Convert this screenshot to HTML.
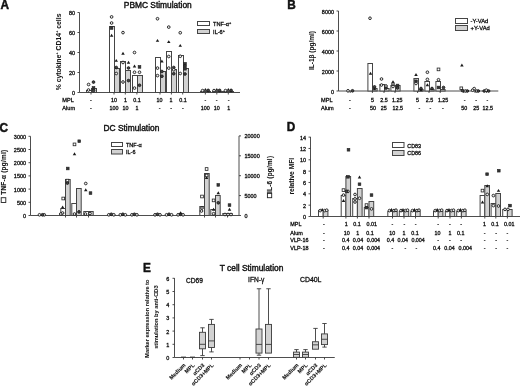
<!DOCTYPE html>
<html><head><meta charset="utf-8"><style>
html,body{margin:0;padding:0;background:#fff;}
svg{display:block;will-change:transform;}
text{font-family:"Liberation Sans",sans-serif;}
</style></head><body>
<svg width="520" height="386" viewBox="0 0 520 386" font-family="Liberation Sans">
<rect width="520" height="386" fill="#fff"/>
<text transform="translate(0.4,9.1) scale(1,1.1)" x="0" y="0" font-size="11.8" font-weight="bold" fill="#111" stroke="#111" stroke-width="0.45">A</text>
<text x="123.80" y="7.60" font-size="8.4" text-anchor="start" font-weight="normal" fill="#111" stroke="#111" stroke-width="0.4">PBMC Stimulation</text>
<line x1="79.50" y1="12.50" x2="79.50" y2="92.50" stroke="#3a3a3a" stroke-width="0.9"/>
<line x1="77.50" y1="92.50" x2="79.50" y2="92.50" stroke="#3a3a3a" stroke-width="0.9"/>
<text x="75.10" y="95.08" font-size="5.5" text-anchor="end" font-weight="normal" fill="#111" stroke="#111" stroke-width="0.3">0</text>
<line x1="77.50" y1="72.50" x2="79.50" y2="72.50" stroke="#3a3a3a" stroke-width="0.9"/>
<text x="75.10" y="75.08" font-size="5.5" text-anchor="end" font-weight="normal" fill="#111" stroke="#111" stroke-width="0.3">20</text>
<line x1="77.50" y1="52.50" x2="79.50" y2="52.50" stroke="#3a3a3a" stroke-width="0.9"/>
<text x="75.10" y="55.08" font-size="5.5" text-anchor="end" font-weight="normal" fill="#111" stroke="#111" stroke-width="0.3">40</text>
<line x1="77.50" y1="32.50" x2="79.50" y2="32.50" stroke="#3a3a3a" stroke-width="0.9"/>
<text x="75.10" y="35.08" font-size="5.5" text-anchor="end" font-weight="normal" fill="#111" stroke="#111" stroke-width="0.3">60</text>
<line x1="77.50" y1="12.50" x2="79.50" y2="12.50" stroke="#3a3a3a" stroke-width="0.9"/>
<text x="75.10" y="15.08" font-size="5.5" text-anchor="end" font-weight="normal" fill="#111" stroke="#111" stroke-width="0.3">80</text>
<line x1="79.50" y1="92.50" x2="240.00" y2="92.50" stroke="#3a3a3a" stroke-width="0.9"/>
<text x="60.60" y="51.90" font-size="6.8" text-anchor="middle" font-weight="bold" fill="#111" stroke="#111" stroke-width="0.05" transform="rotate(-90 60.60 51.90)">% cytokine<tspan font-size="4.2" dy="-2.4">+</tspan><tspan dy="2.4"> CD14</tspan><tspan font-size="4.2" dy="-2.4">+</tspan><tspan dy="2.4"> cells</tspan></text>
<rect x="86.50" y="90.50" width="5.00" height="2.00" fill="#fff" stroke="#454545" stroke-width="1.0" rx="0"/>
<rect x="91.50" y="88.50" width="5.00" height="4.00" fill="#d2d2d2" stroke="#454545" stroke-width="1.0" rx="0"/>
<line x1="91.00" y1="92.50" x2="91.00" y2="94.50" stroke="#3a3a3a" stroke-width="0.9"/>
<rect x="109.50" y="26.50" width="5.00" height="66.00" fill="#fff" stroke="#454545" stroke-width="1.0" rx="0"/>
<rect x="114.50" y="68.50" width="5.00" height="24.00" fill="#d2d2d2" stroke="#454545" stroke-width="1.0" rx="0"/>
<line x1="114.00" y1="92.50" x2="114.00" y2="94.50" stroke="#3a3a3a" stroke-width="0.9"/>
<rect x="120.50" y="61.50" width="5.00" height="31.00" fill="#fff" stroke="#454545" stroke-width="1.0" rx="0"/>
<rect x="125.50" y="70.50" width="5.00" height="22.00" fill="#d2d2d2" stroke="#454545" stroke-width="1.0" rx="0"/>
<line x1="125.30" y1="92.50" x2="125.30" y2="94.50" stroke="#3a3a3a" stroke-width="0.9"/>
<rect x="132.50" y="75.50" width="5.00" height="17.00" fill="#fff" stroke="#454545" stroke-width="1.0" rx="0"/>
<rect x="137.50" y="75.50" width="5.00" height="17.00" fill="#d2d2d2" stroke="#454545" stroke-width="1.0" rx="0"/>
<line x1="136.90" y1="92.50" x2="136.90" y2="94.50" stroke="#3a3a3a" stroke-width="0.9"/>
<rect x="155.50" y="57.50" width="5.00" height="35.00" fill="#fff" stroke="#454545" stroke-width="1.0" rx="0"/>
<rect x="160.50" y="71.50" width="5.00" height="21.00" fill="#d2d2d2" stroke="#454545" stroke-width="1.0" rx="0"/>
<line x1="160.00" y1="92.50" x2="160.00" y2="94.50" stroke="#3a3a3a" stroke-width="0.9"/>
<rect x="166.50" y="51.50" width="5.00" height="41.00" fill="#fff" stroke="#454545" stroke-width="1.0" rx="0"/>
<rect x="171.50" y="69.50" width="5.00" height="23.00" fill="#d2d2d2" stroke="#454545" stroke-width="1.0" rx="0"/>
<line x1="171.40" y1="92.50" x2="171.40" y2="94.50" stroke="#3a3a3a" stroke-width="0.9"/>
<rect x="178.50" y="55.50" width="5.00" height="37.00" fill="#fff" stroke="#454545" stroke-width="1.0" rx="0"/>
<rect x="183.50" y="68.50" width="5.00" height="24.00" fill="#d2d2d2" stroke="#454545" stroke-width="1.0" rx="0"/>
<line x1="182.70" y1="92.50" x2="182.70" y2="94.50" stroke="#3a3a3a" stroke-width="0.9"/>
<rect x="200.50" y="91.50" width="5.00" height="1.00" fill="#fff" stroke="#454545" stroke-width="1.0" rx="0"/>
<rect x="205.50" y="91.50" width="5.00" height="1.00" fill="#d2d2d2" stroke="#454545" stroke-width="1.0" rx="0"/>
<line x1="205.40" y1="92.50" x2="205.40" y2="94.50" stroke="#3a3a3a" stroke-width="0.9"/>
<rect x="212.50" y="91.50" width="5.00" height="1.00" fill="#fff" stroke="#454545" stroke-width="1.0" rx="0"/>
<rect x="217.50" y="91.50" width="5.00" height="1.00" fill="#d2d2d2" stroke="#454545" stroke-width="1.0" rx="0"/>
<line x1="216.80" y1="92.50" x2="216.80" y2="94.50" stroke="#3a3a3a" stroke-width="0.9"/>
<rect x="223.50" y="91.50" width="5.00" height="1.00" fill="#fff" stroke="#454545" stroke-width="1.0" rx="0"/>
<rect x="228.50" y="91.50" width="5.00" height="1.00" fill="#d2d2d2" stroke="#454545" stroke-width="1.0" rx="0"/>
<line x1="228.30" y1="92.50" x2="228.30" y2="94.50" stroke="#3a3a3a" stroke-width="0.9"/>
<circle cx="88.60" cy="84.50" r="1.35" fill="#eee" stroke="#1a1a1a" stroke-width="0.9"/>
<circle cx="93.50" cy="82.10" r="1.35" fill="#444" stroke="#1a1a1a" stroke-width="0.9"/>
<circle cx="88.50" cy="90.00" r="1.35" fill="#eee" stroke="#1a1a1a" stroke-width="0.9"/>
<rect x="92.15" y="86.65" width="2.70" height="2.70" fill="#333" stroke="#222" stroke-width="0.6"/>
<circle cx="93.50" cy="90.50" r="1.35" fill="#444" stroke="#1a1a1a" stroke-width="0.9"/>
<circle cx="111.60" cy="16.90" r="1.35" fill="#eee" stroke="#1a1a1a" stroke-width="0.9"/>
<circle cx="111.60" cy="23.00" r="1.35" fill="#eee" stroke="#1a1a1a" stroke-width="0.9"/>
<rect x="110.25" y="26.65" width="2.70" height="2.70" fill="#333" stroke="#222" stroke-width="0.6"/>
<path d="M109.85,36.70 L113.35,36.70 L111.60,33.80 Z" fill="#1a1a1a"/>
<path d="M114.50,61.80 L118.00,61.80 L116.25,58.90 Z" fill="#1a1a1a"/>
<circle cx="116.25" cy="67.50" r="1.35" fill="#444" stroke="#1a1a1a" stroke-width="0.9"/>
<circle cx="116.25" cy="73.50" r="1.35" fill="#eee" stroke="#1a1a1a" stroke-width="0.9"/>
<circle cx="123.00" cy="32.60" r="1.35" fill="#eee" stroke="#1a1a1a" stroke-width="0.9"/>
<path d="M121.25,54.70 L124.75,54.70 L123.00,51.80 Z" fill="#1a1a1a"/>
<circle cx="123.00" cy="62.50" r="1.35" fill="#eee" stroke="#1a1a1a" stroke-width="0.9"/>
<circle cx="123.00" cy="82.00" r="1.35" fill="#eee" stroke="#1a1a1a" stroke-width="0.9"/>
<path d="M126.75,63.70 L130.25,63.70 L128.50,60.80 Z" fill="#1a1a1a"/>
<circle cx="128.50" cy="68.00" r="1.35" fill="#444" stroke="#1a1a1a" stroke-width="0.9"/>
<circle cx="128.50" cy="80.60" r="1.35" fill="#444" stroke="#1a1a1a" stroke-width="0.9"/>
<circle cx="134.50" cy="52.50" r="1.35" fill="#eee" stroke="#1a1a1a" stroke-width="0.9"/>
<path d="M132.75,67.45 L136.25,67.45 L134.50,64.55 Z" fill="#1a1a1a"/>
<circle cx="134.50" cy="72.25" r="1.35" fill="#eee" stroke="#1a1a1a" stroke-width="0.9"/>
<circle cx="134.50" cy="88.10" r="1.35" fill="#eee" stroke="#1a1a1a" stroke-width="0.9"/>
<rect x="138.15" y="65.55" width="2.70" height="2.70" fill="#333" stroke="#222" stroke-width="0.6"/>
<circle cx="139.50" cy="72.25" r="1.35" fill="#eee" stroke="#1a1a1a" stroke-width="0.9"/>
<circle cx="139.50" cy="85.25" r="1.35" fill="#444" stroke="#1a1a1a" stroke-width="0.9"/>
<circle cx="157.50" cy="18.75" r="1.35" fill="#eee" stroke="#1a1a1a" stroke-width="0.9"/>
<path d="M155.75,41.80 L159.25,41.80 L157.50,38.90 Z" fill="#1a1a1a"/>
<circle cx="157.50" cy="68.10" r="1.35" fill="#eee" stroke="#1a1a1a" stroke-width="0.9"/>
<circle cx="157.50" cy="75.60" r="1.35" fill="#eee" stroke="#1a1a1a" stroke-width="0.9"/>
<path d="M160.15,62.45 L163.65,62.45 L161.90,59.55 Z" fill="#1a1a1a"/>
<circle cx="161.90" cy="71.50" r="1.35" fill="#444" stroke="#1a1a1a" stroke-width="0.9"/>
<circle cx="161.90" cy="76.25" r="1.35" fill="#444" stroke="#1a1a1a" stroke-width="0.9"/>
<circle cx="168.75" cy="27.10" r="1.35" fill="#eee" stroke="#1a1a1a" stroke-width="0.9"/>
<path d="M167.00,43.10 L170.50,43.10 L168.75,40.20 Z" fill="#1a1a1a"/>
<circle cx="168.75" cy="56.50" r="1.35" fill="#eee" stroke="#1a1a1a" stroke-width="0.9"/>
<circle cx="168.75" cy="68.10" r="1.35" fill="#eee" stroke="#1a1a1a" stroke-width="0.9"/>
<circle cx="173.75" cy="67.50" r="1.35" fill="#444" stroke="#1a1a1a" stroke-width="0.9"/>
<circle cx="173.75" cy="69.75" r="1.35" fill="#eee" stroke="#1a1a1a" stroke-width="0.9"/>
<circle cx="173.75" cy="73.75" r="1.35" fill="#444" stroke="#1a1a1a" stroke-width="0.9"/>
<circle cx="180.25" cy="32.75" r="1.35" fill="#eee" stroke="#1a1a1a" stroke-width="0.9"/>
<path d="M178.50,46.80 L182.00,46.80 L180.25,43.90 Z" fill="#1a1a1a"/>
<circle cx="180.25" cy="56.25" r="1.35" fill="#eee" stroke="#1a1a1a" stroke-width="0.9"/>
<circle cx="180.25" cy="73.50" r="1.35" fill="#eee" stroke="#1a1a1a" stroke-width="0.9"/>
<rect x="183.65" y="62.40" width="2.70" height="2.70" fill="#333" stroke="#222" stroke-width="0.6"/>
<circle cx="185.00" cy="66.00" r="1.35" fill="#444" stroke="#1a1a1a" stroke-width="0.9"/>
<rect x="183.65" y="67.40" width="2.70" height="2.70" fill="#333" stroke="#222" stroke-width="0.6"/>
<circle cx="185.00" cy="74.00" r="1.35" fill="#444" stroke="#1a1a1a" stroke-width="0.9"/>
<circle cx="202.60" cy="90.60" r="1.35" fill="#eee" stroke="#1a1a1a" stroke-width="0.9"/>
<path d="M203.65,90.80 L207.15,90.80 L205.40,87.90 Z" fill="#1a1a1a"/>
<circle cx="208.20" cy="90.40" r="1.35" fill="#444" stroke="#1a1a1a" stroke-width="0.9"/>
<circle cx="214.00" cy="90.60" r="1.35" fill="#eee" stroke="#1a1a1a" stroke-width="0.9"/>
<path d="M215.05,90.80 L218.55,90.80 L216.80,87.90 Z" fill="#1a1a1a"/>
<circle cx="219.60" cy="90.40" r="1.35" fill="#444" stroke="#1a1a1a" stroke-width="0.9"/>
<circle cx="225.50" cy="90.60" r="1.35" fill="#eee" stroke="#1a1a1a" stroke-width="0.9"/>
<path d="M226.55,90.80 L230.05,90.80 L228.30,87.90 Z" fill="#1a1a1a"/>
<circle cx="231.10" cy="90.40" r="1.35" fill="#444" stroke="#1a1a1a" stroke-width="0.9"/>
<rect x="197.50" y="21.50" width="12.00" height="4.00" fill="#fff" stroke="#454545" stroke-width="1" rx="0"/>
<rect x="197.50" y="29.50" width="12.00" height="4.00" fill="#d2d2d2" stroke="#454545" stroke-width="1" rx="0"/>
<text x="213.10" y="26.00" font-size="5.6" text-anchor="start" font-weight="normal" fill="#111" stroke="#111" stroke-width="0.3">TNF-α<tspan font-size="3.8" dy="-2.2">+</tspan></text>
<text x="213.10" y="33.70" font-size="5.6" text-anchor="start" font-weight="normal" fill="#111" stroke="#111" stroke-width="0.3">IL-6<tspan font-size="3.8" dy="-2.2">+</tspan></text>
<text x="62.30" y="101.92" font-size="5.6" text-anchor="start" font-weight="normal" fill="#111" stroke="#111" stroke-width="0.3">MPL</text>
<text x="62.30" y="109.82" font-size="5.6" text-anchor="start" font-weight="normal" fill="#111" stroke="#111" stroke-width="0.3">Alum</text>
<text x="91.00" y="101.83" font-size="5.35" text-anchor="middle" font-weight="normal" fill="#111" stroke="#111" stroke-width="0.3">-</text>
<text x="114.00" y="101.83" font-size="5.35" text-anchor="middle" font-weight="normal" fill="#111" stroke="#111" stroke-width="0.3">10</text>
<text x="125.40" y="101.83" font-size="5.35" text-anchor="middle" font-weight="normal" fill="#111" stroke="#111" stroke-width="0.3">1</text>
<text x="136.90" y="101.83" font-size="5.35" text-anchor="middle" font-weight="normal" fill="#111" stroke="#111" stroke-width="0.3">0.1</text>
<text x="159.60" y="101.83" font-size="5.35" text-anchor="middle" font-weight="normal" fill="#111" stroke="#111" stroke-width="0.3">10</text>
<text x="171.10" y="101.83" font-size="5.35" text-anchor="middle" font-weight="normal" fill="#111" stroke="#111" stroke-width="0.3">1</text>
<text x="183.00" y="101.83" font-size="5.35" text-anchor="middle" font-weight="normal" fill="#111" stroke="#111" stroke-width="0.3">0.1</text>
<text x="205.30" y="101.83" font-size="5.35" text-anchor="middle" font-weight="normal" fill="#111" stroke="#111" stroke-width="0.3">-</text>
<text x="216.70" y="101.83" font-size="5.35" text-anchor="middle" font-weight="normal" fill="#111" stroke="#111" stroke-width="0.3">-</text>
<text x="228.70" y="101.83" font-size="5.35" text-anchor="middle" font-weight="normal" fill="#111" stroke="#111" stroke-width="0.3">-</text>
<text x="91.00" y="109.73" font-size="5.35" text-anchor="middle" font-weight="normal" fill="#111" stroke="#111" stroke-width="0.3">-</text>
<text x="114.00" y="109.73" font-size="5.35" text-anchor="middle" font-weight="normal" fill="#111" stroke="#111" stroke-width="0.3">100</text>
<text x="125.40" y="109.73" font-size="5.35" text-anchor="middle" font-weight="normal" fill="#111" stroke="#111" stroke-width="0.3">10</text>
<text x="136.90" y="109.73" font-size="5.35" text-anchor="middle" font-weight="normal" fill="#111" stroke="#111" stroke-width="0.3">1</text>
<text x="159.60" y="109.73" font-size="5.35" text-anchor="middle" font-weight="normal" fill="#111" stroke="#111" stroke-width="0.3">-</text>
<text x="171.10" y="109.73" font-size="5.35" text-anchor="middle" font-weight="normal" fill="#111" stroke="#111" stroke-width="0.3">-</text>
<text x="183.00" y="109.73" font-size="5.35" text-anchor="middle" font-weight="normal" fill="#111" stroke="#111" stroke-width="0.3">-</text>
<text x="205.30" y="109.73" font-size="5.35" text-anchor="middle" font-weight="normal" fill="#111" stroke="#111" stroke-width="0.3">100</text>
<text x="216.70" y="109.73" font-size="5.35" text-anchor="middle" font-weight="normal" fill="#111" stroke="#111" stroke-width="0.3">10</text>
<text x="228.70" y="109.73" font-size="5.35" text-anchor="middle" font-weight="normal" fill="#111" stroke="#111" stroke-width="0.3">1</text>
<text transform="translate(287.2,8.6) scale(1,1.1)" x="0" y="0" font-size="11.8" font-weight="bold" fill="#111" stroke="#111" stroke-width="0.45">B</text>
<line x1="338.50" y1="11.00" x2="338.50" y2="91.00" stroke="#3a3a3a" stroke-width="0.9"/>
<line x1="336.50" y1="91.00" x2="338.50" y2="91.00" stroke="#3a3a3a" stroke-width="0.9"/>
<text x="334.10" y="93.58" font-size="5.5" text-anchor="end" font-weight="normal" fill="#111" stroke="#111" stroke-width="0.3">0</text>
<line x1="336.50" y1="71.00" x2="338.50" y2="71.00" stroke="#3a3a3a" stroke-width="0.9"/>
<text x="334.10" y="73.58" font-size="5.5" text-anchor="end" font-weight="normal" fill="#111" stroke="#111" stroke-width="0.3">2000</text>
<line x1="336.50" y1="51.00" x2="338.50" y2="51.00" stroke="#3a3a3a" stroke-width="0.9"/>
<text x="334.10" y="53.58" font-size="5.5" text-anchor="end" font-weight="normal" fill="#111" stroke="#111" stroke-width="0.3">4000</text>
<line x1="336.50" y1="31.00" x2="338.50" y2="31.00" stroke="#3a3a3a" stroke-width="0.9"/>
<text x="334.10" y="33.58" font-size="5.5" text-anchor="end" font-weight="normal" fill="#111" stroke="#111" stroke-width="0.3">6000</text>
<line x1="336.50" y1="11.00" x2="338.50" y2="11.00" stroke="#3a3a3a" stroke-width="0.9"/>
<text x="334.10" y="13.58" font-size="5.5" text-anchor="end" font-weight="normal" fill="#111" stroke="#111" stroke-width="0.3">8000</text>
<line x1="338.50" y1="91.00" x2="498.30" y2="91.00" stroke="#3a3a3a" stroke-width="0.9"/>
<text x="314.40" y="50.50" font-size="6.5" text-anchor="middle" font-weight="bold" fill="#111" stroke="#111" stroke-width="0.05" transform="rotate(-90 314.40 50.50)">IL-1β (pg/ml)</text>
<rect x="345.90" y="91.50" width="4.60" height="-0.50" fill="#fff" stroke="#454545" stroke-width="1.0" rx="0"/>
<rect x="350.50" y="91.50" width="4.60" height="-0.50" fill="#d2d2d2" stroke="#454545" stroke-width="1.0" rx="0"/>
<line x1="350.20" y1="91.00" x2="350.20" y2="93.00" stroke="#3a3a3a" stroke-width="0.9"/>
<rect x="367.90" y="63.50" width="4.60" height="27.50" fill="#fff" stroke="#454545" stroke-width="1.0" rx="0"/>
<rect x="372.50" y="88.50" width="4.60" height="2.50" fill="#d2d2d2" stroke="#454545" stroke-width="1.0" rx="0"/>
<line x1="372.40" y1="91.00" x2="372.40" y2="93.00" stroke="#3a3a3a" stroke-width="0.9"/>
<rect x="379.90" y="84.50" width="4.60" height="6.50" fill="#fff" stroke="#454545" stroke-width="1.0" rx="0"/>
<rect x="384.50" y="88.50" width="4.60" height="2.50" fill="#d2d2d2" stroke="#454545" stroke-width="1.0" rx="0"/>
<line x1="384.00" y1="91.00" x2="384.00" y2="93.00" stroke="#3a3a3a" stroke-width="0.9"/>
<rect x="390.90" y="85.50" width="4.60" height="5.50" fill="#fff" stroke="#454545" stroke-width="1.0" rx="0"/>
<rect x="395.50" y="85.50" width="4.60" height="5.50" fill="#d2d2d2" stroke="#454545" stroke-width="1.0" rx="0"/>
<line x1="395.00" y1="91.00" x2="395.00" y2="93.00" stroke="#3a3a3a" stroke-width="0.9"/>
<rect x="413.90" y="78.50" width="4.60" height="12.50" fill="#fff" stroke="#454545" stroke-width="1.0" rx="0"/>
<rect x="418.50" y="89.50" width="4.60" height="1.50" fill="#d2d2d2" stroke="#454545" stroke-width="1.0" rx="0"/>
<line x1="417.60" y1="91.00" x2="417.60" y2="93.00" stroke="#3a3a3a" stroke-width="0.9"/>
<rect x="424.90" y="81.50" width="4.60" height="9.50" fill="#fff" stroke="#454545" stroke-width="1.0" rx="0"/>
<rect x="429.50" y="89.50" width="4.60" height="1.50" fill="#d2d2d2" stroke="#454545" stroke-width="1.0" rx="0"/>
<line x1="429.00" y1="91.00" x2="429.00" y2="93.00" stroke="#3a3a3a" stroke-width="0.9"/>
<rect x="435.90" y="81.50" width="4.60" height="9.50" fill="#fff" stroke="#454545" stroke-width="1.0" rx="0"/>
<rect x="440.50" y="89.50" width="4.60" height="1.50" fill="#d2d2d2" stroke="#454545" stroke-width="1.0" rx="0"/>
<line x1="440.20" y1="91.00" x2="440.20" y2="93.00" stroke="#3a3a3a" stroke-width="0.9"/>
<rect x="459.90" y="91.50" width="4.60" height="-0.50" fill="#fff" stroke="#454545" stroke-width="1.0" rx="0"/>
<rect x="464.50" y="91.50" width="4.60" height="-0.50" fill="#d2d2d2" stroke="#454545" stroke-width="1.0" rx="0"/>
<line x1="463.60" y1="91.00" x2="463.60" y2="93.00" stroke="#3a3a3a" stroke-width="0.9"/>
<rect x="470.90" y="91.50" width="4.60" height="-0.50" fill="#fff" stroke="#454545" stroke-width="1.0" rx="0"/>
<rect x="475.50" y="91.50" width="4.60" height="-0.50" fill="#d2d2d2" stroke="#454545" stroke-width="1.0" rx="0"/>
<line x1="475.00" y1="91.00" x2="475.00" y2="93.00" stroke="#3a3a3a" stroke-width="0.9"/>
<rect x="481.90" y="91.50" width="4.60" height="-0.50" fill="#fff" stroke="#454545" stroke-width="1.0" rx="0"/>
<rect x="486.50" y="91.50" width="4.60" height="-0.50" fill="#d2d2d2" stroke="#454545" stroke-width="1.0" rx="0"/>
<line x1="486.40" y1="91.00" x2="486.40" y2="93.00" stroke="#3a3a3a" stroke-width="0.9"/>
<circle cx="348.00" cy="90.80" r="1.35" fill="#eee" stroke="#1a1a1a" stroke-width="0.9"/>
<circle cx="352.50" cy="90.80" r="1.35" fill="#444" stroke="#1a1a1a" stroke-width="0.9"/>
<circle cx="370.00" cy="18.25" r="1.35" fill="#eee" stroke="#1a1a1a" stroke-width="0.9"/>
<path d="M368.75,74.70 L372.25,74.70 L370.50,71.80 Z" fill="#1a1a1a"/>
<circle cx="374.50" cy="86.90" r="1.35" fill="#444" stroke="#1a1a1a" stroke-width="0.9"/>
<path d="M372.75,90.20 L376.25,90.20 L374.50,87.30 Z" fill="#1a1a1a"/>
<circle cx="381.50" cy="79.00" r="1.35" fill="#eee" stroke="#1a1a1a" stroke-width="0.9"/>
<circle cx="381.50" cy="85.00" r="1.35" fill="#eee" stroke="#1a1a1a" stroke-width="0.9"/>
<circle cx="386.00" cy="88.00" r="1.35" fill="#444" stroke="#1a1a1a" stroke-width="0.9"/>
<circle cx="386.00" cy="86.00" r="1.35" fill="#eee" stroke="#1a1a1a" stroke-width="0.9"/>
<path d="M391.25,83.10 L394.75,83.10 L393.00,80.20 Z" fill="#1a1a1a"/>
<circle cx="393.00" cy="84.00" r="1.35" fill="#eee" stroke="#1a1a1a" stroke-width="0.9"/>
<circle cx="393.00" cy="86.50" r="1.35" fill="#eee" stroke="#1a1a1a" stroke-width="0.9"/>
<rect x="396.15" y="84.15" width="2.70" height="2.70" fill="#333" stroke="#222" stroke-width="0.6"/>
<circle cx="397.50" cy="88.00" r="1.35" fill="#444" stroke="#1a1a1a" stroke-width="0.9"/>
<path d="M414.25,75.95 L417.75,75.95 L416.00,73.05 Z" fill="#1a1a1a"/>
<rect x="414.65" y="79.90" width="2.70" height="2.70" fill="#333" stroke="#222" stroke-width="0.6"/>
<circle cx="416.00" cy="83.50" r="1.35" fill="#eee" stroke="#1a1a1a" stroke-width="0.9"/>
<circle cx="421.00" cy="88.50" r="1.35" fill="#444" stroke="#1a1a1a" stroke-width="0.9"/>
<path d="M419.25,91.20 L422.75,91.20 L421.00,88.30 Z" fill="#1a1a1a"/>
<circle cx="427.40" cy="72.25" r="1.35" fill="#eee" stroke="#1a1a1a" stroke-width="0.9"/>
<circle cx="427.40" cy="79.40" r="1.35" fill="#eee" stroke="#1a1a1a" stroke-width="0.9"/>
<path d="M425.65,86.20 L429.15,86.20 L427.40,83.30 Z" fill="#1a1a1a"/>
<circle cx="432.00" cy="88.50" r="1.35" fill="#444" stroke="#1a1a1a" stroke-width="0.9"/>
<rect x="437.15" y="68.05" width="2.70" height="2.70" fill="#fff" stroke="#222" stroke-width="0.8"/>
<circle cx="438.50" cy="79.75" r="1.35" fill="#eee" stroke="#1a1a1a" stroke-width="0.9"/>
<rect x="437.15" y="86.15" width="2.70" height="2.70" fill="#333" stroke="#222" stroke-width="0.6"/>
<circle cx="443.50" cy="87.50" r="1.35" fill="#444" stroke="#1a1a1a" stroke-width="0.9"/>
<path d="M460.15,66.45 L463.65,66.45 L461.90,63.55 Z" fill="#1a1a1a"/>
<rect x="459.95" y="86.95" width="2.70" height="2.70" fill="#fff" stroke="#222" stroke-width="0.8"/>
<circle cx="462.50" cy="90.60" r="1.35" fill="#444" stroke="#1a1a1a" stroke-width="0.9"/>
<circle cx="465.30" cy="91.00" r="1.35" fill="#eee" stroke="#1a1a1a" stroke-width="0.9"/>
<circle cx="467.30" cy="91.00" r="1.35" fill="#444" stroke="#1a1a1a" stroke-width="0.9"/>
<circle cx="472.60" cy="90.20" r="1.35" fill="#eee" stroke="#1a1a1a" stroke-width="0.9"/>
<circle cx="474.20" cy="88.60" r="1.35" fill="#eee" stroke="#1a1a1a" stroke-width="0.9"/>
<circle cx="476.60" cy="91.00" r="1.35" fill="#eee" stroke="#1a1a1a" stroke-width="0.9"/>
<circle cx="478.30" cy="91.00" r="1.35" fill="#444" stroke="#1a1a1a" stroke-width="0.9"/>
<circle cx="484.20" cy="91.00" r="1.35" fill="#444" stroke="#1a1a1a" stroke-width="0.9"/>
<circle cx="486.30" cy="90.20" r="1.35" fill="#eee" stroke="#1a1a1a" stroke-width="0.9"/>
<circle cx="488.60" cy="91.00" r="1.35" fill="#444" stroke="#1a1a1a" stroke-width="0.9"/>
<rect x="455.50" y="18.50" width="12.00" height="5.00" fill="#fff" stroke="#454545" stroke-width="1" rx="0"/>
<rect x="455.50" y="25.50" width="12.00" height="5.00" fill="#d2d2d2" stroke="#454545" stroke-width="1" rx="0"/>
<text x="470.60" y="22.90" font-size="5.8" text-anchor="start" font-weight="normal" fill="#111" stroke="#111" stroke-width="0.3">-Y-VAd</text>
<text x="470.60" y="30.00" font-size="5.8" text-anchor="start" font-weight="normal" fill="#111" stroke="#111" stroke-width="0.3">+Y-VAd</text>
<text x="321.00" y="101.72" font-size="5.6" text-anchor="start" font-weight="normal" fill="#111" stroke="#111" stroke-width="0.3">MPL</text>
<text x="321.00" y="109.72" font-size="5.6" text-anchor="start" font-weight="normal" fill="#111" stroke="#111" stroke-width="0.3">Alum</text>
<text x="350.00" y="101.53" font-size="5.35" text-anchor="middle" font-weight="normal" fill="#111" stroke="#111" stroke-width="0.3">-</text>
<text x="372.50" y="101.53" font-size="5.35" text-anchor="middle" font-weight="normal" fill="#111" stroke="#111" stroke-width="0.3">5</text>
<text x="383.90" y="101.53" font-size="5.35" text-anchor="middle" font-weight="normal" fill="#111" stroke="#111" stroke-width="0.3">2.5</text>
<text x="397.20" y="101.53" font-size="5.35" text-anchor="middle" font-weight="normal" fill="#111" stroke="#111" stroke-width="0.3">1.25</text>
<text x="417.50" y="101.53" font-size="5.35" text-anchor="middle" font-weight="normal" fill="#111" stroke="#111" stroke-width="0.3">5</text>
<text x="429.50" y="101.53" font-size="5.35" text-anchor="middle" font-weight="normal" fill="#111" stroke="#111" stroke-width="0.3">2.5</text>
<text x="443.10" y="101.53" font-size="5.35" text-anchor="middle" font-weight="normal" fill="#111" stroke="#111" stroke-width="0.3">1.25</text>
<text x="464.60" y="101.53" font-size="5.35" text-anchor="middle" font-weight="normal" fill="#111" stroke="#111" stroke-width="0.3">-</text>
<text x="476.20" y="101.53" font-size="5.35" text-anchor="middle" font-weight="normal" fill="#111" stroke="#111" stroke-width="0.3">-</text>
<text x="487.40" y="101.53" font-size="5.35" text-anchor="middle" font-weight="normal" fill="#111" stroke="#111" stroke-width="0.3">-</text>
<text x="350.00" y="109.53" font-size="5.35" text-anchor="middle" font-weight="normal" fill="#111" stroke="#111" stroke-width="0.3">-</text>
<text x="372.90" y="109.53" font-size="5.35" text-anchor="middle" font-weight="normal" fill="#111" stroke="#111" stroke-width="0.3">50</text>
<text x="383.75" y="109.53" font-size="5.35" text-anchor="middle" font-weight="normal" fill="#111" stroke="#111" stroke-width="0.3">25</text>
<text x="397.70" y="109.53" font-size="5.35" text-anchor="middle" font-weight="normal" fill="#111" stroke="#111" stroke-width="0.3">12.5</text>
<text x="419.50" y="109.53" font-size="5.35" text-anchor="middle" font-weight="normal" fill="#111" stroke="#111" stroke-width="0.3">-</text>
<text x="430.50" y="109.53" font-size="5.35" text-anchor="middle" font-weight="normal" fill="#111" stroke="#111" stroke-width="0.3">-</text>
<text x="442.80" y="109.53" font-size="5.35" text-anchor="middle" font-weight="normal" fill="#111" stroke="#111" stroke-width="0.3">-</text>
<text x="464.20" y="109.53" font-size="5.35" text-anchor="middle" font-weight="normal" fill="#111" stroke="#111" stroke-width="0.3">50</text>
<text x="476.20" y="109.53" font-size="5.35" text-anchor="middle" font-weight="normal" fill="#111" stroke="#111" stroke-width="0.3">25</text>
<text x="487.70" y="109.53" font-size="5.35" text-anchor="middle" font-weight="normal" fill="#111" stroke="#111" stroke-width="0.3">12.5</text>
<text transform="translate(-0.5,131.5) scale(1,1.1)" x="0" y="0" font-size="11.8" font-weight="bold" fill="#111" stroke="#111" stroke-width="0.45">C</text>
<text x="103.50" y="131.25" font-size="8.4" text-anchor="start" font-weight="normal" fill="#111" stroke="#111" stroke-width="0.4">DC Stimulation</text>
<line x1="30.50" y1="136.30" x2="30.50" y2="215.50" stroke="#3a3a3a" stroke-width="0.9"/>
<line x1="28.50" y1="215.50" x2="30.50" y2="215.50" stroke="#3a3a3a" stroke-width="0.9"/>
<text x="26.10" y="218.08" font-size="5.5" text-anchor="end" font-weight="normal" fill="#111" stroke="#111" stroke-width="0.3">0</text>
<line x1="28.50" y1="202.30" x2="30.50" y2="202.30" stroke="#3a3a3a" stroke-width="0.9"/>
<text x="26.10" y="204.88" font-size="5.5" text-anchor="end" font-weight="normal" fill="#111" stroke="#111" stroke-width="0.3">500</text>
<line x1="28.50" y1="189.10" x2="30.50" y2="189.10" stroke="#3a3a3a" stroke-width="0.9"/>
<text x="26.10" y="191.68" font-size="5.5" text-anchor="end" font-weight="normal" fill="#111" stroke="#111" stroke-width="0.3">1000</text>
<line x1="28.50" y1="175.90" x2="30.50" y2="175.90" stroke="#3a3a3a" stroke-width="0.9"/>
<text x="26.10" y="178.48" font-size="5.5" text-anchor="end" font-weight="normal" fill="#111" stroke="#111" stroke-width="0.3">1500</text>
<line x1="28.50" y1="162.70" x2="30.50" y2="162.70" stroke="#3a3a3a" stroke-width="0.9"/>
<text x="26.10" y="165.28" font-size="5.5" text-anchor="end" font-weight="normal" fill="#111" stroke="#111" stroke-width="0.3">2000</text>
<line x1="28.50" y1="149.50" x2="30.50" y2="149.50" stroke="#3a3a3a" stroke-width="0.9"/>
<text x="26.10" y="152.08" font-size="5.5" text-anchor="end" font-weight="normal" fill="#111" stroke="#111" stroke-width="0.3">2500</text>
<line x1="28.50" y1="136.30" x2="30.50" y2="136.30" stroke="#3a3a3a" stroke-width="0.9"/>
<text x="26.10" y="138.88" font-size="5.5" text-anchor="end" font-weight="normal" fill="#111" stroke="#111" stroke-width="0.3">3000</text>
<line x1="239.00" y1="135.90" x2="239.00" y2="215.50" stroke="#3a3a3a" stroke-width="0.9"/>
<line x1="239.00" y1="215.50" x2="241.00" y2="215.50" stroke="#3a3a3a" stroke-width="0.9"/>
<text x="244.40" y="218.08" font-size="5.5" text-anchor="start" font-weight="normal" fill="#111" stroke="#111" stroke-width="0.3">0</text>
<line x1="239.00" y1="195.60" x2="241.00" y2="195.60" stroke="#3a3a3a" stroke-width="0.9"/>
<text x="244.40" y="198.18" font-size="5.5" text-anchor="start" font-weight="normal" fill="#111" stroke="#111" stroke-width="0.3">5000</text>
<line x1="239.00" y1="175.70" x2="241.00" y2="175.70" stroke="#3a3a3a" stroke-width="0.9"/>
<text x="244.40" y="178.28" font-size="5.5" text-anchor="start" font-weight="normal" fill="#111" stroke="#111" stroke-width="0.3">10000</text>
<line x1="239.00" y1="155.80" x2="241.00" y2="155.80" stroke="#3a3a3a" stroke-width="0.9"/>
<text x="244.40" y="158.38" font-size="5.5" text-anchor="start" font-weight="normal" fill="#111" stroke="#111" stroke-width="0.3">15000</text>
<line x1="239.00" y1="135.90" x2="241.00" y2="135.90" stroke="#3a3a3a" stroke-width="0.9"/>
<text x="244.40" y="138.48" font-size="5.5" text-anchor="start" font-weight="normal" fill="#111" stroke="#111" stroke-width="0.3">20000</text>
<line x1="30.50" y1="215.50" x2="239.00" y2="215.50" stroke="#3a3a3a" stroke-width="0.9"/>
<g transform="translate(4.3,175.5) rotate(-90)"><rect x="-27" y="-3.1" width="4.8" height="4.6" fill="#fff" stroke="#222" stroke-width="0.9"/><text x="-19.3" y="1.5" font-size="6.4" font-weight="bold" fill="#111" stroke="#111" stroke-width="0.12" textLength="45" lengthAdjust="spacing">TNF-α (pg/ml)</text></g>
<g transform="translate(271.6,177) rotate(-90)"><rect x="-20.7" y="-4.2" width="4.3" height="4.3" fill="#fff" stroke="#222" stroke-width="0.9"/><text x="-16" y="0.3" font-size="6.3" font-weight="bold" fill="#111" stroke="#111" stroke-width="0.12" textLength="37" lengthAdjust="spacing">IL-6 (pg/ml)</text></g>
<rect x="37.80" y="215.50" width="4.70" height="0.00" fill="#fff" stroke="#454545" stroke-width="1.0" rx="0"/>
<rect x="42.50" y="215.50" width="4.70" height="0.00" fill="#d2d2d2" stroke="#454545" stroke-width="1.0" rx="0"/>
<rect x="60.80" y="208.50" width="4.70" height="7.00" fill="#fff" stroke="#454545" stroke-width="1.0" rx="0"/>
<rect x="65.50" y="179.50" width="4.70" height="36.00" fill="#d2d2d2" stroke="#454545" stroke-width="1.0" rx="0"/>
<line x1="65.50" y1="215.50" x2="65.50" y2="217.50" stroke="#3a3a3a" stroke-width="0.9"/>
<rect x="71.80" y="203.50" width="4.70" height="12.00" fill="#fff" stroke="#454545" stroke-width="1.0" rx="0"/>
<rect x="76.50" y="188.50" width="4.70" height="27.00" fill="#d2d2d2" stroke="#454545" stroke-width="1.0" rx="0"/>
<line x1="76.50" y1="215.50" x2="76.50" y2="217.50" stroke="#3a3a3a" stroke-width="0.9"/>
<rect x="83.80" y="211.50" width="4.70" height="4.00" fill="#fff" stroke="#454545" stroke-width="1.0" rx="0"/>
<rect x="88.50" y="211.50" width="4.70" height="4.00" fill="#d2d2d2" stroke="#454545" stroke-width="1.0" rx="0"/>
<line x1="88.50" y1="215.50" x2="88.50" y2="217.50" stroke="#3a3a3a" stroke-width="0.9"/>
<rect x="199.80" y="206.50" width="4.70" height="9.00" fill="#fff" stroke="#454545" stroke-width="1.0" rx="0"/>
<rect x="204.50" y="173.50" width="4.70" height="42.00" fill="#d2d2d2" stroke="#454545" stroke-width="1.0" rx="0"/>
<line x1="204.50" y1="215.50" x2="204.50" y2="217.50" stroke="#3a3a3a" stroke-width="0.9"/>
<rect x="210.80" y="209.50" width="4.70" height="6.00" fill="#fff" stroke="#454545" stroke-width="1.0" rx="0"/>
<rect x="215.50" y="195.50" width="4.70" height="20.00" fill="#d2d2d2" stroke="#454545" stroke-width="1.0" rx="0"/>
<line x1="215.50" y1="215.50" x2="215.50" y2="217.50" stroke="#3a3a3a" stroke-width="0.9"/>
<rect x="222.80" y="213.50" width="4.70" height="2.00" fill="#fff" stroke="#454545" stroke-width="1.0" rx="0"/>
<rect x="227.50" y="213.50" width="4.70" height="2.00" fill="#d2d2d2" stroke="#454545" stroke-width="1.0" rx="0"/>
<line x1="227.50" y1="215.50" x2="227.50" y2="217.50" stroke="#3a3a3a" stroke-width="0.9"/>
<circle cx="39.50" cy="214.80" r="1.35" fill="#eee" stroke="#1a1a1a" stroke-width="0.9"/>
<circle cx="44.25" cy="214.80" r="1.35" fill="#eee" stroke="#1a1a1a" stroke-width="0.9"/>
<circle cx="42.50" cy="214.80" r="1.35" fill="#444" stroke="#1a1a1a" stroke-width="0.9"/>
<path d="M60.85,208.45 L64.35,208.45 L62.60,205.55 Z" fill="#1a1a1a"/>
<rect x="61.90" y="197.15" width="2.70" height="2.70" fill="#fff" stroke="#222" stroke-width="0.8"/>
<circle cx="62.60" cy="213.00" r="1.35" fill="#eee" stroke="#1a1a1a" stroke-width="0.9"/>
<circle cx="60.80" cy="214.00" r="1.35" fill="#eee" stroke="#1a1a1a" stroke-width="0.9"/>
<rect x="66.05" y="179.25" width="2.70" height="2.70" fill="#fff" stroke="#222" stroke-width="0.8"/>
<circle cx="67.40" cy="183.10" r="1.35" fill="#444" stroke="#1a1a1a" stroke-width="0.9"/>
<rect x="66.40" y="167.15" width="2.70" height="2.70" fill="#333" stroke="#222" stroke-width="0.6"/>
<path d="M72.75,155.20 L76.25,155.20 L74.50,152.30 Z" fill="#1a1a1a"/>
<rect x="73.15" y="143.05" width="2.70" height="2.70" fill="#fff" stroke="#222" stroke-width="0.8"/>
<rect x="77.90" y="139.90" width="2.70" height="2.70" fill="#333" stroke="#222" stroke-width="0.6"/>
<circle cx="74.50" cy="214.00" r="1.35" fill="#eee" stroke="#1a1a1a" stroke-width="0.9"/>
<circle cx="79.00" cy="211.90" r="1.35" fill="#444" stroke="#1a1a1a" stroke-width="0.9"/>
<circle cx="85.75" cy="183.50" r="1.35" fill="#eee" stroke="#1a1a1a" stroke-width="0.9"/>
<path d="M84.00,191.20 L87.50,191.20 L85.75,188.30 Z" fill="#1a1a1a"/>
<rect x="89.15" y="191.75" width="2.70" height="2.70" fill="#333" stroke="#222" stroke-width="0.6"/>
<circle cx="85.50" cy="214.00" r="1.35" fill="#eee" stroke="#1a1a1a" stroke-width="0.9"/>
<circle cx="90.00" cy="213.50" r="1.35" fill="#eee" stroke="#1a1a1a" stroke-width="0.9"/>
<circle cx="108.80" cy="214.80" r="1.35" fill="#eee" stroke="#1a1a1a" stroke-width="0.9"/>
<circle cx="111.30" cy="214.30" r="1.35" fill="#444" stroke="#1a1a1a" stroke-width="0.9"/>
<circle cx="113.80" cy="214.80" r="1.35" fill="#eee" stroke="#1a1a1a" stroke-width="0.9"/>
<circle cx="120.35" cy="214.80" r="1.35" fill="#eee" stroke="#1a1a1a" stroke-width="0.9"/>
<circle cx="122.85" cy="214.30" r="1.35" fill="#444" stroke="#1a1a1a" stroke-width="0.9"/>
<circle cx="125.35" cy="214.80" r="1.35" fill="#eee" stroke="#1a1a1a" stroke-width="0.9"/>
<circle cx="131.90" cy="214.80" r="1.35" fill="#eee" stroke="#1a1a1a" stroke-width="0.9"/>
<circle cx="134.40" cy="214.30" r="1.35" fill="#444" stroke="#1a1a1a" stroke-width="0.9"/>
<circle cx="136.90" cy="214.80" r="1.35" fill="#eee" stroke="#1a1a1a" stroke-width="0.9"/>
<circle cx="155.00" cy="214.80" r="1.35" fill="#eee" stroke="#1a1a1a" stroke-width="0.9"/>
<circle cx="157.50" cy="214.30" r="1.35" fill="#444" stroke="#1a1a1a" stroke-width="0.9"/>
<circle cx="160.00" cy="214.80" r="1.35" fill="#eee" stroke="#1a1a1a" stroke-width="0.9"/>
<circle cx="166.55" cy="214.80" r="1.35" fill="#eee" stroke="#1a1a1a" stroke-width="0.9"/>
<circle cx="169.05" cy="214.30" r="1.35" fill="#444" stroke="#1a1a1a" stroke-width="0.9"/>
<circle cx="171.55" cy="214.80" r="1.35" fill="#eee" stroke="#1a1a1a" stroke-width="0.9"/>
<circle cx="178.10" cy="214.80" r="1.35" fill="#eee" stroke="#1a1a1a" stroke-width="0.9"/>
<circle cx="180.60" cy="214.30" r="1.35" fill="#444" stroke="#1a1a1a" stroke-width="0.9"/>
<circle cx="183.10" cy="214.80" r="1.35" fill="#eee" stroke="#1a1a1a" stroke-width="0.9"/>
<path d="M178.85,214.20 L182.35,214.20 L180.60,211.30 Z" fill="#1a1a1a"/>
<rect x="205.25" y="167.65" width="2.70" height="2.70" fill="#fff" stroke="#222" stroke-width="0.8"/>
<rect x="205.25" y="174.15" width="2.70" height="2.70" fill="#fff" stroke="#222" stroke-width="0.8"/>
<path d="M204.85,179.10 L208.35,179.10 L206.60,176.20 Z" fill="#1a1a1a"/>
<rect x="200.65" y="195.15" width="2.70" height="2.70" fill="#fff" stroke="#222" stroke-width="0.8"/>
<circle cx="202.00" cy="208.00" r="1.35" fill="#eee" stroke="#1a1a1a" stroke-width="0.9"/>
<circle cx="201.50" cy="211.00" r="1.35" fill="#eee" stroke="#1a1a1a" stroke-width="0.9"/>
<rect x="216.95" y="183.55" width="2.70" height="2.70" fill="#333" stroke="#222" stroke-width="0.6"/>
<path d="M216.55,194.20 L220.05,194.20 L218.30,191.30 Z" fill="#1a1a1a"/>
<circle cx="218.30" cy="202.80" r="1.35" fill="#444" stroke="#1a1a1a" stroke-width="0.9"/>
<rect x="212.25" y="199.05" width="2.70" height="2.70" fill="#fff" stroke="#222" stroke-width="0.8"/>
<path d="M211.85,210.70 L215.35,210.70 L213.60,207.80 Z" fill="#1a1a1a"/>
<circle cx="213.60" cy="213.70" r="1.35" fill="#eee" stroke="#1a1a1a" stroke-width="0.9"/>
<rect x="228.15" y="203.75" width="2.70" height="2.70" fill="#333" stroke="#222" stroke-width="0.6"/>
<path d="M227.75,210.70 L231.25,210.70 L229.50,207.80 Z" fill="#1a1a1a"/>
<circle cx="225.00" cy="214.50" r="1.35" fill="#eee" stroke="#1a1a1a" stroke-width="0.9"/>
<circle cx="228.00" cy="214.50" r="1.35" fill="#eee" stroke="#1a1a1a" stroke-width="0.9"/>
<circle cx="231.00" cy="214.50" r="1.35" fill="#eee" stroke="#1a1a1a" stroke-width="0.9"/>
<rect x="111.50" y="142.50" width="11.00" height="4.00" fill="#fff" stroke="#454545" stroke-width="1" rx="0"/>
<rect x="111.50" y="149.50" width="11.00" height="4.50" fill="#d2d2d2" stroke="#454545" stroke-width="1" rx="0"/>
<text x="126.00" y="146.90" font-size="5.5" text-anchor="start" font-weight="normal" fill="#111" stroke="#111" stroke-width="0.3">TNF-α</text>
<text x="126.00" y="154.40" font-size="5.5" text-anchor="start" font-weight="normal" fill="#111" stroke="#111" stroke-width="0.3">IL-6</text>
<text transform="translate(286.8,130.5) scale(1,1.1)" x="0" y="0" font-size="11.8" font-weight="bold" fill="#111" stroke="#111" stroke-width="0.45">D</text>
<line x1="310.50" y1="136.90" x2="310.50" y2="216.50" stroke="#3a3a3a" stroke-width="0.9"/>
<line x1="308.50" y1="216.50" x2="310.50" y2="216.50" stroke="#3a3a3a" stroke-width="0.9"/>
<text x="306.10" y="219.08" font-size="5.5" text-anchor="end" font-weight="normal" fill="#111" stroke="#111" stroke-width="0.3">0</text>
<line x1="308.50" y1="205.16" x2="310.50" y2="205.16" stroke="#3a3a3a" stroke-width="0.9"/>
<text x="306.10" y="207.74" font-size="5.5" text-anchor="end" font-weight="normal" fill="#111" stroke="#111" stroke-width="0.3">2</text>
<line x1="308.50" y1="193.82" x2="310.50" y2="193.82" stroke="#3a3a3a" stroke-width="0.9"/>
<text x="306.10" y="196.40" font-size="5.5" text-anchor="end" font-weight="normal" fill="#111" stroke="#111" stroke-width="0.3">4</text>
<line x1="308.50" y1="182.48" x2="310.50" y2="182.48" stroke="#3a3a3a" stroke-width="0.9"/>
<text x="306.10" y="185.06" font-size="5.5" text-anchor="end" font-weight="normal" fill="#111" stroke="#111" stroke-width="0.3">6</text>
<line x1="308.50" y1="171.14" x2="310.50" y2="171.14" stroke="#3a3a3a" stroke-width="0.9"/>
<text x="306.10" y="173.72" font-size="5.5" text-anchor="end" font-weight="normal" fill="#111" stroke="#111" stroke-width="0.3">8</text>
<line x1="308.50" y1="159.80" x2="310.50" y2="159.80" stroke="#3a3a3a" stroke-width="0.9"/>
<text x="306.10" y="162.38" font-size="5.5" text-anchor="end" font-weight="normal" fill="#111" stroke="#111" stroke-width="0.3">10</text>
<line x1="308.50" y1="148.46" x2="310.50" y2="148.46" stroke="#3a3a3a" stroke-width="0.9"/>
<text x="306.10" y="151.04" font-size="5.5" text-anchor="end" font-weight="normal" fill="#111" stroke="#111" stroke-width="0.3">12</text>
<line x1="308.50" y1="137.12" x2="310.50" y2="137.12" stroke="#3a3a3a" stroke-width="0.9"/>
<text x="306.10" y="139.70" font-size="5.5" text-anchor="end" font-weight="normal" fill="#111" stroke="#111" stroke-width="0.3">14</text>
<line x1="310.50" y1="216.50" x2="520.00" y2="216.50" stroke="#3a3a3a" stroke-width="0.9"/>
<text x="293.60" y="176.20" font-size="6.7" text-anchor="middle" font-weight="bold" fill="#111" stroke="#111" stroke-width="0.05" transform="rotate(-90 293.60 176.20)">relative MFI</text>
<rect x="318.50" y="210.50" width="4.70" height="6.00" fill="#fff" stroke="#454545" stroke-width="1.0" rx="0"/>
<rect x="323.20" y="210.50" width="4.70" height="6.00" fill="#d2d2d2" stroke="#454545" stroke-width="1.0" rx="0"/>
<line x1="323.20" y1="216.50" x2="323.20" y2="218.50" stroke="#3a3a3a" stroke-width="0.9"/>
<rect x="341.20" y="195.50" width="4.70" height="21.00" fill="#fff" stroke="#454545" stroke-width="1.0" rx="0"/>
<rect x="345.90" y="176.50" width="4.70" height="40.00" fill="#d2d2d2" stroke="#454545" stroke-width="1.0" rx="0"/>
<line x1="345.90" y1="216.50" x2="345.90" y2="218.50" stroke="#3a3a3a" stroke-width="0.9"/>
<rect x="352.70" y="198.50" width="4.70" height="18.00" fill="#fff" stroke="#454545" stroke-width="1.0" rx="0"/>
<rect x="357.40" y="188.50" width="4.70" height="28.00" fill="#d2d2d2" stroke="#454545" stroke-width="1.0" rx="0"/>
<line x1="357.40" y1="216.50" x2="357.40" y2="218.50" stroke="#3a3a3a" stroke-width="0.9"/>
<rect x="364.30" y="207.50" width="4.70" height="9.00" fill="#fff" stroke="#454545" stroke-width="1.0" rx="0"/>
<rect x="369.00" y="201.50" width="4.70" height="15.00" fill="#d2d2d2" stroke="#454545" stroke-width="1.0" rx="0"/>
<line x1="369.00" y1="216.50" x2="369.00" y2="218.50" stroke="#3a3a3a" stroke-width="0.9"/>
<rect x="387.80" y="211.50" width="4.70" height="5.00" fill="#fff" stroke="#454545" stroke-width="1.0" rx="0"/>
<rect x="392.50" y="211.50" width="4.70" height="5.00" fill="#d2d2d2" stroke="#454545" stroke-width="1.0" rx="0"/>
<line x1="392.50" y1="216.50" x2="392.50" y2="218.50" stroke="#3a3a3a" stroke-width="0.9"/>
<rect x="399.30" y="211.50" width="4.70" height="5.00" fill="#fff" stroke="#454545" stroke-width="1.0" rx="0"/>
<rect x="404.00" y="211.50" width="4.70" height="5.00" fill="#d2d2d2" stroke="#454545" stroke-width="1.0" rx="0"/>
<line x1="404.00" y1="216.50" x2="404.00" y2="218.50" stroke="#3a3a3a" stroke-width="0.9"/>
<rect x="410.80" y="211.50" width="4.70" height="5.00" fill="#fff" stroke="#454545" stroke-width="1.0" rx="0"/>
<rect x="415.50" y="211.50" width="4.70" height="5.00" fill="#d2d2d2" stroke="#454545" stroke-width="1.0" rx="0"/>
<line x1="415.50" y1="216.50" x2="415.50" y2="218.50" stroke="#3a3a3a" stroke-width="0.9"/>
<rect x="433.50" y="211.50" width="4.70" height="5.00" fill="#fff" stroke="#454545" stroke-width="1.0" rx="0"/>
<rect x="438.20" y="211.50" width="4.70" height="5.00" fill="#d2d2d2" stroke="#454545" stroke-width="1.0" rx="0"/>
<line x1="438.20" y1="216.50" x2="438.20" y2="218.50" stroke="#3a3a3a" stroke-width="0.9"/>
<rect x="445.30" y="211.50" width="4.70" height="5.00" fill="#fff" stroke="#454545" stroke-width="1.0" rx="0"/>
<rect x="450.00" y="211.50" width="4.70" height="5.00" fill="#d2d2d2" stroke="#454545" stroke-width="1.0" rx="0"/>
<line x1="450.00" y1="216.50" x2="450.00" y2="218.50" stroke="#3a3a3a" stroke-width="0.9"/>
<rect x="456.70" y="211.50" width="4.70" height="5.00" fill="#fff" stroke="#454545" stroke-width="1.0" rx="0"/>
<rect x="461.40" y="211.50" width="4.70" height="5.00" fill="#d2d2d2" stroke="#454545" stroke-width="1.0" rx="0"/>
<line x1="461.40" y1="216.50" x2="461.40" y2="218.50" stroke="#3a3a3a" stroke-width="0.9"/>
<rect x="480.10" y="195.50" width="4.70" height="21.00" fill="#fff" stroke="#454545" stroke-width="1.0" rx="0"/>
<rect x="484.80" y="185.50" width="4.70" height="31.00" fill="#d2d2d2" stroke="#454545" stroke-width="1.0" rx="0"/>
<line x1="484.80" y1="216.50" x2="484.80" y2="218.50" stroke="#3a3a3a" stroke-width="0.9"/>
<rect x="491.10" y="203.50" width="4.70" height="13.00" fill="#fff" stroke="#454545" stroke-width="1.0" rx="0"/>
<rect x="495.80" y="193.50" width="4.70" height="23.00" fill="#d2d2d2" stroke="#454545" stroke-width="1.0" rx="0"/>
<line x1="495.80" y1="216.50" x2="495.80" y2="218.50" stroke="#3a3a3a" stroke-width="0.9"/>
<rect x="502.70" y="209.50" width="4.70" height="7.00" fill="#fff" stroke="#454545" stroke-width="1.0" rx="0"/>
<rect x="507.40" y="209.50" width="4.70" height="7.00" fill="#d2d2d2" stroke="#454545" stroke-width="1.0" rx="0"/>
<line x1="507.40" y1="216.50" x2="507.40" y2="218.50" stroke="#3a3a3a" stroke-width="0.9"/>
<rect x="347.15" y="148.40" width="2.70" height="2.70" fill="#333" stroke="#222" stroke-width="0.6"/>
<rect x="342.15" y="188.75" width="2.70" height="2.70" fill="#fff" stroke="#222" stroke-width="0.8"/>
<circle cx="343.50" cy="195.10" r="1.35" fill="#eee" stroke="#1a1a1a" stroke-width="0.9"/>
<path d="M341.75,201.95 L345.25,201.95 L343.50,199.05 Z" fill="#1a1a1a"/>
<rect x="346.65" y="175.45" width="2.70" height="2.70" fill="#333" stroke="#222" stroke-width="0.6"/>
<circle cx="348.00" cy="191.40" r="1.35" fill="#eee" stroke="#1a1a1a" stroke-width="0.9"/>
<circle cx="346.50" cy="191.40" r="1.35" fill="#444" stroke="#1a1a1a" stroke-width="0.9"/>
<circle cx="355.00" cy="194.50" r="1.35" fill="#eee" stroke="#1a1a1a" stroke-width="0.9"/>
<circle cx="355.00" cy="198.90" r="1.35" fill="#eee" stroke="#1a1a1a" stroke-width="0.9"/>
<circle cx="355.00" cy="202.00" r="1.35" fill="#eee" stroke="#1a1a1a" stroke-width="0.9"/>
<path d="M357.75,178.45 L361.25,178.45 L359.50,175.55 Z" fill="#1a1a1a"/>
<rect x="358.15" y="182.90" width="2.70" height="2.70" fill="#333" stroke="#222" stroke-width="0.6"/>
<circle cx="359.50" cy="198.25" r="1.35" fill="#eee" stroke="#1a1a1a" stroke-width="0.9"/>
<rect x="365.15" y="203.75" width="2.70" height="2.70" fill="#fff" stroke="#222" stroke-width="0.8"/>
<rect x="365.15" y="206.25" width="2.70" height="2.70" fill="#333" stroke="#222" stroke-width="0.6"/>
<rect x="370.15" y="193.75" width="2.70" height="2.70" fill="#333" stroke="#222" stroke-width="0.6"/>
<circle cx="371.50" cy="208.90" r="1.35" fill="#eee" stroke="#1a1a1a" stroke-width="0.9"/>
<rect x="481.15" y="189.25" width="2.70" height="2.70" fill="#fff" stroke="#222" stroke-width="0.8"/>
<path d="M480.75,203.45 L484.25,203.45 L482.50,200.55 Z" fill="#1a1a1a"/>
<path d="M485.50,187.20 L489.00,187.20 L487.25,184.30 Z" fill="#1a1a1a"/>
<circle cx="487.25" cy="194.40" r="1.35" fill="#eee" stroke="#1a1a1a" stroke-width="0.9"/>
<circle cx="493.40" cy="195.60" r="1.35" fill="#eee" stroke="#1a1a1a" stroke-width="0.9"/>
<circle cx="493.40" cy="205.60" r="1.35" fill="#eee" stroke="#1a1a1a" stroke-width="0.9"/>
<path d="M496.75,191.80 L500.25,191.80 L498.50,188.90 Z" fill="#1a1a1a"/>
<circle cx="498.50" cy="206.00" r="1.35" fill="#eee" stroke="#1a1a1a" stroke-width="0.9"/>
<rect x="508.65" y="204.25" width="2.70" height="2.70" fill="#333" stroke="#222" stroke-width="0.6"/>
<circle cx="505.00" cy="209.40" r="1.35" fill="#eee" stroke="#1a1a1a" stroke-width="0.9"/>
<circle cx="508.00" cy="209.40" r="1.35" fill="#eee" stroke="#1a1a1a" stroke-width="0.9"/>
<rect x="485.75" y="172.85" width="2.70" height="2.70" fill="#333" stroke="#222" stroke-width="0.6"/>
<rect x="497.45" y="169.35" width="2.70" height="2.70" fill="#333" stroke="#222" stroke-width="0.6"/>
<circle cx="320.20" cy="210.60" r="1.35" fill="#eee" stroke="#1a1a1a" stroke-width="0.9"/>
<path d="M320.45,211.00 L323.95,211.00 L322.20,208.10 Z" fill="#1a1a1a"/>
<circle cx="324.70" cy="210.60" r="1.35" fill="#eee" stroke="#1a1a1a" stroke-width="0.9"/>
<circle cx="326.70" cy="210.20" r="1.35" fill="#eee" stroke="#1a1a1a" stroke-width="0.9"/>
<circle cx="389.50" cy="210.60" r="1.35" fill="#eee" stroke="#1a1a1a" stroke-width="0.9"/>
<path d="M389.75,211.00 L393.25,211.00 L391.50,208.10 Z" fill="#1a1a1a"/>
<circle cx="394.00" cy="210.60" r="1.35" fill="#eee" stroke="#1a1a1a" stroke-width="0.9"/>
<circle cx="396.00" cy="210.20" r="1.35" fill="#eee" stroke="#1a1a1a" stroke-width="0.9"/>
<circle cx="401.00" cy="210.60" r="1.35" fill="#eee" stroke="#1a1a1a" stroke-width="0.9"/>
<path d="M401.25,211.00 L404.75,211.00 L403.00,208.10 Z" fill="#1a1a1a"/>
<circle cx="405.50" cy="210.60" r="1.35" fill="#eee" stroke="#1a1a1a" stroke-width="0.9"/>
<circle cx="407.50" cy="210.20" r="1.35" fill="#eee" stroke="#1a1a1a" stroke-width="0.9"/>
<circle cx="412.50" cy="210.60" r="1.35" fill="#eee" stroke="#1a1a1a" stroke-width="0.9"/>
<path d="M412.75,211.00 L416.25,211.00 L414.50,208.10 Z" fill="#1a1a1a"/>
<circle cx="417.00" cy="210.60" r="1.35" fill="#eee" stroke="#1a1a1a" stroke-width="0.9"/>
<circle cx="419.00" cy="210.20" r="1.35" fill="#eee" stroke="#1a1a1a" stroke-width="0.9"/>
<circle cx="435.20" cy="210.60" r="1.35" fill="#eee" stroke="#1a1a1a" stroke-width="0.9"/>
<path d="M435.45,211.00 L438.95,211.00 L437.20,208.10 Z" fill="#1a1a1a"/>
<circle cx="439.70" cy="210.60" r="1.35" fill="#eee" stroke="#1a1a1a" stroke-width="0.9"/>
<circle cx="441.70" cy="210.20" r="1.35" fill="#eee" stroke="#1a1a1a" stroke-width="0.9"/>
<circle cx="447.00" cy="210.60" r="1.35" fill="#eee" stroke="#1a1a1a" stroke-width="0.9"/>
<path d="M447.25,211.00 L450.75,211.00 L449.00,208.10 Z" fill="#1a1a1a"/>
<circle cx="451.50" cy="210.60" r="1.35" fill="#eee" stroke="#1a1a1a" stroke-width="0.9"/>
<circle cx="453.50" cy="210.20" r="1.35" fill="#eee" stroke="#1a1a1a" stroke-width="0.9"/>
<circle cx="458.40" cy="210.60" r="1.35" fill="#eee" stroke="#1a1a1a" stroke-width="0.9"/>
<path d="M458.65,211.00 L462.15,211.00 L460.40,208.10 Z" fill="#1a1a1a"/>
<circle cx="462.90" cy="210.60" r="1.35" fill="#eee" stroke="#1a1a1a" stroke-width="0.9"/>
<circle cx="464.90" cy="210.20" r="1.35" fill="#eee" stroke="#1a1a1a" stroke-width="0.9"/>
<rect x="392.50" y="142.50" width="11.50" height="5.00" fill="#fff" stroke="#454545" stroke-width="1" rx="0"/>
<rect x="392.50" y="150.50" width="11.50" height="5.00" fill="#d2d2d2" stroke="#454545" stroke-width="1" rx="0"/>
<text x="407.25" y="147.75" font-size="5.4" text-anchor="start" font-weight="normal" fill="#111" stroke="#111" stroke-width="0.3">CD83</text>
<text x="407.25" y="155.40" font-size="5.4" text-anchor="start" font-weight="normal" fill="#111" stroke="#111" stroke-width="0.3">CD86</text>
<text x="290.30" y="226.46" font-size="5.45" text-anchor="start" font-weight="normal" fill="#111" stroke="#111" stroke-width="0.3">MPL</text>
<text x="290.30" y="234.66" font-size="5.45" text-anchor="start" font-weight="normal" fill="#111" stroke="#111" stroke-width="0.3">Alum</text>
<text x="290.30" y="242.26" font-size="5.45" text-anchor="start" font-weight="normal" fill="#111" stroke="#111" stroke-width="0.3">VLP-16</text>
<text x="290.30" y="249.56" font-size="5.45" text-anchor="start" font-weight="normal" fill="#111" stroke="#111" stroke-width="0.3">VLP-18</text>
<text x="324.00" y="226.43" font-size="5.35" text-anchor="middle" font-weight="normal" fill="#111" stroke="#111" stroke-width="0.3">-</text>
<text x="346.25" y="226.43" font-size="5.35" text-anchor="middle" font-weight="normal" fill="#111" stroke="#111" stroke-width="0.3">1</text>
<text x="356.90" y="226.43" font-size="5.35" text-anchor="middle" font-weight="normal" fill="#111" stroke="#111" stroke-width="0.3">0.1</text>
<text x="371.75" y="226.43" font-size="5.35" text-anchor="middle" font-weight="normal" fill="#111" stroke="#111" stroke-width="0.3">0.01</text>
<text x="392.50" y="226.43" font-size="5.35" text-anchor="middle" font-weight="normal" fill="#111" stroke="#111" stroke-width="0.3">-</text>
<text x="404.40" y="226.43" font-size="5.35" text-anchor="middle" font-weight="normal" fill="#111" stroke="#111" stroke-width="0.3">-</text>
<text x="415.60" y="226.43" font-size="5.35" text-anchor="middle" font-weight="normal" fill="#111" stroke="#111" stroke-width="0.3">-</text>
<text x="438.10" y="226.43" font-size="5.35" text-anchor="middle" font-weight="normal" fill="#111" stroke="#111" stroke-width="0.3">-</text>
<text x="450.00" y="226.43" font-size="5.35" text-anchor="middle" font-weight="normal" fill="#111" stroke="#111" stroke-width="0.3">-</text>
<text x="461.25" y="226.43" font-size="5.35" text-anchor="middle" font-weight="normal" fill="#111" stroke="#111" stroke-width="0.3">-</text>
<text x="484.40" y="226.43" font-size="5.35" text-anchor="middle" font-weight="normal" fill="#111" stroke="#111" stroke-width="0.3">1</text>
<text x="495.00" y="226.43" font-size="5.35" text-anchor="middle" font-weight="normal" fill="#111" stroke="#111" stroke-width="0.3">0.1</text>
<text x="509.30" y="226.43" font-size="5.35" text-anchor="middle" font-weight="normal" fill="#111" stroke="#111" stroke-width="0.3">0.01</text>
<text x="324.00" y="234.63" font-size="5.35" text-anchor="middle" font-weight="normal" fill="#111" stroke="#111" stroke-width="0.3">-</text>
<text x="346.70" y="234.63" font-size="5.35" text-anchor="middle" font-weight="normal" fill="#111" stroke="#111" stroke-width="0.3">10</text>
<text x="357.75" y="234.63" font-size="5.35" text-anchor="middle" font-weight="normal" fill="#111" stroke="#111" stroke-width="0.3">1</text>
<text x="370.00" y="234.63" font-size="5.35" text-anchor="middle" font-weight="normal" fill="#111" stroke="#111" stroke-width="0.3">0.1</text>
<text x="392.20" y="234.63" font-size="5.35" text-anchor="middle" font-weight="normal" fill="#111" stroke="#111" stroke-width="0.3">10</text>
<text x="404.00" y="234.63" font-size="5.35" text-anchor="middle" font-weight="normal" fill="#111" stroke="#111" stroke-width="0.3">1</text>
<text x="415.00" y="234.63" font-size="5.35" text-anchor="middle" font-weight="normal" fill="#111" stroke="#111" stroke-width="0.3">0.1</text>
<text x="437.50" y="234.63" font-size="5.35" text-anchor="middle" font-weight="normal" fill="#111" stroke="#111" stroke-width="0.3">10</text>
<text x="450.00" y="234.63" font-size="5.35" text-anchor="middle" font-weight="normal" fill="#111" stroke="#111" stroke-width="0.3">1</text>
<text x="460.80" y="234.63" font-size="5.35" text-anchor="middle" font-weight="normal" fill="#111" stroke="#111" stroke-width="0.3">0.1</text>
<text x="484.70" y="234.63" font-size="5.35" text-anchor="middle" font-weight="normal" fill="#111" stroke="#111" stroke-width="0.3">-</text>
<text x="496.10" y="234.63" font-size="5.35" text-anchor="middle" font-weight="normal" fill="#111" stroke="#111" stroke-width="0.3">-</text>
<text x="507.50" y="234.63" font-size="5.35" text-anchor="middle" font-weight="normal" fill="#111" stroke="#111" stroke-width="0.3">-</text>
<text x="324.00" y="242.23" font-size="5.35" text-anchor="middle" font-weight="normal" fill="#111" stroke="#111" stroke-width="0.3">-</text>
<text x="345.80" y="242.23" font-size="5.35" text-anchor="middle" font-weight="normal" fill="#111" stroke="#111" stroke-width="0.3">0.4</text>
<text x="358.00" y="242.23" font-size="5.35" text-anchor="middle" font-weight="normal" fill="#111" stroke="#111" stroke-width="0.3">0.04</text>
<text x="373.40" y="242.23" font-size="5.35" text-anchor="middle" font-weight="normal" fill="#111" stroke="#111" stroke-width="0.3">0.004</text>
<text x="390.40" y="242.23" font-size="5.35" text-anchor="middle" font-weight="normal" fill="#111" stroke="#111" stroke-width="0.3">0.4</text>
<text x="402.80" y="242.23" font-size="5.35" text-anchor="middle" font-weight="normal" fill="#111" stroke="#111" stroke-width="0.3">0.04</text>
<text x="418.10" y="242.23" font-size="5.35" text-anchor="middle" font-weight="normal" fill="#111" stroke="#111" stroke-width="0.3">0.004</text>
<text x="438.10" y="242.23" font-size="5.35" text-anchor="middle" font-weight="normal" fill="#111" stroke="#111" stroke-width="0.3">-</text>
<text x="450.00" y="242.23" font-size="5.35" text-anchor="middle" font-weight="normal" fill="#111" stroke="#111" stroke-width="0.3">-</text>
<text x="461.25" y="242.23" font-size="5.35" text-anchor="middle" font-weight="normal" fill="#111" stroke="#111" stroke-width="0.3">-</text>
<text x="484.70" y="242.23" font-size="5.35" text-anchor="middle" font-weight="normal" fill="#111" stroke="#111" stroke-width="0.3">-</text>
<text x="496.10" y="242.23" font-size="5.35" text-anchor="middle" font-weight="normal" fill="#111" stroke="#111" stroke-width="0.3">-</text>
<text x="507.50" y="242.23" font-size="5.35" text-anchor="middle" font-weight="normal" fill="#111" stroke="#111" stroke-width="0.3">-</text>
<text x="324.00" y="249.53" font-size="5.35" text-anchor="middle" font-weight="normal" fill="#111" stroke="#111" stroke-width="0.3">-</text>
<text x="345.80" y="249.53" font-size="5.35" text-anchor="middle" font-weight="normal" fill="#111" stroke="#111" stroke-width="0.3">0.4</text>
<text x="358.00" y="249.53" font-size="5.35" text-anchor="middle" font-weight="normal" fill="#111" stroke="#111" stroke-width="0.3">0.04</text>
<text x="373.40" y="249.53" font-size="5.35" text-anchor="middle" font-weight="normal" fill="#111" stroke="#111" stroke-width="0.3">0.004</text>
<text x="392.50" y="249.53" font-size="5.35" text-anchor="middle" font-weight="normal" fill="#111" stroke="#111" stroke-width="0.3">-</text>
<text x="405.30" y="249.53" font-size="5.35" text-anchor="middle" font-weight="normal" fill="#111" stroke="#111" stroke-width="0.3">-</text>
<text x="416.30" y="249.53" font-size="5.35" text-anchor="middle" font-weight="normal" fill="#111" stroke="#111" stroke-width="0.3">-</text>
<text x="436.80" y="249.53" font-size="5.35" text-anchor="middle" font-weight="normal" fill="#111" stroke="#111" stroke-width="0.3">0.4</text>
<text x="449.50" y="249.53" font-size="5.35" text-anchor="middle" font-weight="normal" fill="#111" stroke="#111" stroke-width="0.3">0.04</text>
<text x="465.20" y="249.53" font-size="5.35" text-anchor="middle" font-weight="normal" fill="#111" stroke="#111" stroke-width="0.3">0.004</text>
<text x="484.70" y="249.53" font-size="5.35" text-anchor="middle" font-weight="normal" fill="#111" stroke="#111" stroke-width="0.3">-</text>
<text x="496.10" y="249.53" font-size="5.35" text-anchor="middle" font-weight="normal" fill="#111" stroke="#111" stroke-width="0.3">-</text>
<text x="507.50" y="249.53" font-size="5.35" text-anchor="middle" font-weight="normal" fill="#111" stroke="#111" stroke-width="0.3">-</text>
<text transform="translate(143.0,271.5) scale(1,1.1)" x="0" y="0" font-size="11.8" font-weight="bold" fill="#111" stroke="#111" stroke-width="0.45">E</text>
<text x="219.75" y="270.60" font-size="8.4" text-anchor="start" font-weight="normal" fill="#111" stroke="#111" stroke-width="0.4">T cell Stimulation</text>
<line x1="174.50" y1="278.10" x2="174.50" y2="357.50" stroke="#3a3a3a" stroke-width="0.9"/>
<line x1="172.50" y1="357.50" x2="174.50" y2="357.50" stroke="#3a3a3a" stroke-width="0.9"/>
<text x="169.30" y="360.08" font-size="5.5" text-anchor="end" font-weight="normal" fill="#111" stroke="#111" stroke-width="0.3">0</text>
<line x1="172.50" y1="344.30" x2="174.50" y2="344.30" stroke="#3a3a3a" stroke-width="0.9"/>
<text x="169.30" y="346.88" font-size="5.5" text-anchor="end" font-weight="normal" fill="#111" stroke="#111" stroke-width="0.3">1</text>
<line x1="172.50" y1="331.10" x2="174.50" y2="331.10" stroke="#3a3a3a" stroke-width="0.9"/>
<text x="169.30" y="333.68" font-size="5.5" text-anchor="end" font-weight="normal" fill="#111" stroke="#111" stroke-width="0.3">2</text>
<line x1="172.50" y1="317.90" x2="174.50" y2="317.90" stroke="#3a3a3a" stroke-width="0.9"/>
<text x="169.30" y="320.48" font-size="5.5" text-anchor="end" font-weight="normal" fill="#111" stroke="#111" stroke-width="0.3">3</text>
<line x1="172.50" y1="304.70" x2="174.50" y2="304.70" stroke="#3a3a3a" stroke-width="0.9"/>
<text x="169.30" y="307.28" font-size="5.5" text-anchor="end" font-weight="normal" fill="#111" stroke="#111" stroke-width="0.3">4</text>
<line x1="172.50" y1="291.50" x2="174.50" y2="291.50" stroke="#3a3a3a" stroke-width="0.9"/>
<text x="169.30" y="294.08" font-size="5.5" text-anchor="end" font-weight="normal" fill="#111" stroke="#111" stroke-width="0.3">5</text>
<line x1="172.50" y1="278.30" x2="174.50" y2="278.30" stroke="#3a3a3a" stroke-width="0.9"/>
<text x="169.30" y="280.88" font-size="5.5" text-anchor="end" font-weight="normal" fill="#111" stroke="#111" stroke-width="0.3">6</text>
<line x1="174.50" y1="357.50" x2="334.75" y2="357.50" stroke="#3a3a3a" stroke-width="0.9"/>
<text x="149.10" y="318.60" font-size="5.65" text-anchor="middle" font-weight="bold" fill="#111" stroke="#111" stroke-width="0.05" transform="rotate(-90 149.10 318.60)">Marker expression relative to</text>
<text x="157.60" y="317.10" font-size="5.7" text-anchor="middle" font-weight="bold" fill="#111" stroke="#111" stroke-width="0.05" transform="rotate(-90 157.60 317.10)">stimulation by anti-CD3</text>
<text x="186.00" y="282.90" font-size="6.6" text-anchor="start" font-weight="normal" fill="#111" stroke="#111" stroke-width="0.3">CD69</text>
<text x="248.10" y="282.00" font-size="6.6" text-anchor="start" font-weight="normal" fill="#111" stroke="#111" stroke-width="0.3">IFN-γ</text>
<text x="300.00" y="281.90" font-size="6.9" text-anchor="start" font-weight="normal" fill="#111" stroke="#111" stroke-width="0.3">CD40L</text>
<line x1="183.50" y1="357.50" x2="183.50" y2="359.50" stroke="#3a3a3a" stroke-width="0.9"/>
<line x1="192.50" y1="357.50" x2="192.50" y2="359.50" stroke="#3a3a3a" stroke-width="0.9"/>
<line x1="202.50" y1="357.50" x2="202.50" y2="359.50" stroke="#3a3a3a" stroke-width="0.9"/>
<line x1="211.50" y1="357.50" x2="211.50" y2="359.50" stroke="#3a3a3a" stroke-width="0.9"/>
<line x1="240.00" y1="357.50" x2="240.00" y2="359.50" stroke="#3a3a3a" stroke-width="0.9"/>
<line x1="249.50" y1="357.50" x2="249.50" y2="359.50" stroke="#3a3a3a" stroke-width="0.9"/>
<line x1="259.00" y1="357.50" x2="259.00" y2="359.50" stroke="#3a3a3a" stroke-width="0.9"/>
<line x1="268.50" y1="357.50" x2="268.50" y2="359.50" stroke="#3a3a3a" stroke-width="0.9"/>
<line x1="296.50" y1="357.50" x2="296.50" y2="359.50" stroke="#3a3a3a" stroke-width="0.9"/>
<line x1="305.50" y1="357.50" x2="305.50" y2="359.50" stroke="#3a3a3a" stroke-width="0.9"/>
<line x1="315.50" y1="357.50" x2="315.50" y2="359.50" stroke="#3a3a3a" stroke-width="0.9"/>
<line x1="324.50" y1="357.50" x2="324.50" y2="359.50" stroke="#3a3a3a" stroke-width="0.9"/>
<line x1="202.50" y1="327.80" x2="202.50" y2="332.30" stroke="#3a3a3a" stroke-width="0.9"/>
<line x1="200.30" y1="327.80" x2="204.70" y2="327.80" stroke="#3a3a3a" stroke-width="0.9"/>
<line x1="202.50" y1="348.80" x2="202.50" y2="355.60" stroke="#3a3a3a" stroke-width="0.9"/>
<line x1="200.30" y1="355.60" x2="204.70" y2="355.60" stroke="#3a3a3a" stroke-width="0.9"/>
<rect x="199.50" y="332.30" width="6.00" height="16.50" fill="#d2d2d2" stroke="#3a3a3a" stroke-width="0.9" rx="0"/>
<line x1="199.50" y1="344.30" x2="205.50" y2="344.30" stroke="#3a3a3a" stroke-width="0.9"/>
<line x1="211.50" y1="319.40" x2="211.50" y2="324.40" stroke="#3a3a3a" stroke-width="0.9"/>
<line x1="209.30" y1="319.40" x2="213.70" y2="319.40" stroke="#3a3a3a" stroke-width="0.9"/>
<line x1="211.50" y1="347.50" x2="211.50" y2="351.90" stroke="#3a3a3a" stroke-width="0.9"/>
<line x1="209.30" y1="351.90" x2="213.70" y2="351.90" stroke="#3a3a3a" stroke-width="0.9"/>
<rect x="208.50" y="324.40" width="6.00" height="23.10" fill="#d2d2d2" stroke="#3a3a3a" stroke-width="0.9" rx="0"/>
<line x1="208.50" y1="340.90" x2="214.50" y2="340.90" stroke="#3a3a3a" stroke-width="0.9"/>
<line x1="259.00" y1="288.75" x2="259.00" y2="329.00" stroke="#3a3a3a" stroke-width="0.9"/>
<line x1="256.80" y1="288.75" x2="261.20" y2="288.75" stroke="#3a3a3a" stroke-width="0.9"/>
<line x1="259.00" y1="353.10" x2="259.00" y2="355.20" stroke="#3a3a3a" stroke-width="0.9"/>
<line x1="256.80" y1="355.20" x2="261.20" y2="355.20" stroke="#3a3a3a" stroke-width="0.9"/>
<rect x="256.00" y="329.00" width="6.00" height="24.10" fill="#d2d2d2" stroke="#3a3a3a" stroke-width="0.9" rx="0"/>
<line x1="256.00" y1="344.40" x2="262.00" y2="344.40" stroke="#3a3a3a" stroke-width="0.9"/>
<line x1="268.50" y1="288.75" x2="268.50" y2="324.40" stroke="#3a3a3a" stroke-width="0.9"/>
<line x1="266.30" y1="288.75" x2="270.70" y2="288.75" stroke="#3a3a3a" stroke-width="0.9"/>
<rect x="265.50" y="324.40" width="6.00" height="28.70" fill="#d2d2d2" stroke="#3a3a3a" stroke-width="0.9" rx="0"/>
<line x1="265.50" y1="344.40" x2="271.50" y2="344.40" stroke="#3a3a3a" stroke-width="0.9"/>
<line x1="296.50" y1="349.60" x2="296.50" y2="352.10" stroke="#3a3a3a" stroke-width="0.9"/>
<line x1="294.30" y1="349.60" x2="298.70" y2="349.60" stroke="#3a3a3a" stroke-width="0.9"/>
<rect x="293.50" y="352.10" width="6.00" height="5.20" fill="#d2d2d2" stroke="#3a3a3a" stroke-width="0.9" rx="0"/>
<line x1="293.50" y1="354.50" x2="299.50" y2="354.50" stroke="#3a3a3a" stroke-width="0.9"/>
<line x1="305.50" y1="349.60" x2="305.50" y2="352.10" stroke="#3a3a3a" stroke-width="0.9"/>
<line x1="303.30" y1="349.60" x2="307.70" y2="349.60" stroke="#3a3a3a" stroke-width="0.9"/>
<rect x="302.50" y="352.10" width="6.00" height="5.20" fill="#d2d2d2" stroke="#3a3a3a" stroke-width="0.9" rx="0"/>
<line x1="302.50" y1="354.50" x2="308.50" y2="354.50" stroke="#3a3a3a" stroke-width="0.9"/>
<line x1="315.50" y1="328.40" x2="315.50" y2="341.75" stroke="#3a3a3a" stroke-width="0.9"/>
<line x1="313.30" y1="328.40" x2="317.70" y2="328.40" stroke="#3a3a3a" stroke-width="0.9"/>
<rect x="312.50" y="341.75" width="6.00" height="7.45" fill="#d2d2d2" stroke="#3a3a3a" stroke-width="0.9" rx="0"/>
<line x1="312.50" y1="344.85" x2="318.50" y2="344.85" stroke="#3a3a3a" stroke-width="0.9"/>
<line x1="324.50" y1="323.50" x2="324.50" y2="333.90" stroke="#3a3a3a" stroke-width="0.9"/>
<line x1="322.30" y1="323.50" x2="326.70" y2="323.50" stroke="#3a3a3a" stroke-width="0.9"/>
<line x1="324.50" y1="344.60" x2="324.50" y2="347.10" stroke="#3a3a3a" stroke-width="0.9"/>
<line x1="322.30" y1="347.10" x2="326.70" y2="347.10" stroke="#3a3a3a" stroke-width="0.9"/>
<rect x="321.50" y="333.90" width="6.00" height="10.70" fill="#d2d2d2" stroke="#3a3a3a" stroke-width="0.9" rx="0"/>
<line x1="321.50" y1="339.25" x2="327.50" y2="339.25" stroke="#3a3a3a" stroke-width="0.9"/>
<line x1="181.00" y1="357.20" x2="186.00" y2="357.20" stroke="#3a3a3a" stroke-width="1.2"/>
<line x1="190.00" y1="357.20" x2="195.00" y2="357.20" stroke="#3a3a3a" stroke-width="1.2"/>
<text x="186.00" y="365.60" font-size="5.45" text-anchor="end" font-weight="bold" fill="#111" stroke="#111" stroke-width="0.1" transform="rotate(-45 186.00 365.60)">Medium</text>
<text x="195.00" y="365.60" font-size="5.45" text-anchor="end" font-weight="bold" fill="#111" stroke="#111" stroke-width="0.1" transform="rotate(-45 195.00 365.60)">MPL</text>
<text x="205.00" y="365.60" font-size="5.45" text-anchor="end" font-weight="bold" fill="#111" stroke="#111" stroke-width="0.1" transform="rotate(-45 205.00 365.60)">αCD3</text>
<text x="214.00" y="365.60" font-size="5.45" text-anchor="end" font-weight="bold" fill="#111" stroke="#111" stroke-width="0.1" transform="rotate(-45 214.00 365.60)">αCD3+MPL</text>
<text x="242.50" y="365.60" font-size="5.45" text-anchor="end" font-weight="bold" fill="#111" stroke="#111" stroke-width="0.1" transform="rotate(-45 242.50 365.60)">Medium</text>
<text x="252.00" y="365.60" font-size="5.45" text-anchor="end" font-weight="bold" fill="#111" stroke="#111" stroke-width="0.1" transform="rotate(-45 252.00 365.60)">MPL</text>
<text x="261.50" y="365.60" font-size="5.45" text-anchor="end" font-weight="bold" fill="#111" stroke="#111" stroke-width="0.1" transform="rotate(-45 261.50 365.60)">αCD3</text>
<text x="271.00" y="365.60" font-size="5.45" text-anchor="end" font-weight="bold" fill="#111" stroke="#111" stroke-width="0.1" transform="rotate(-45 271.00 365.60)">αCD3+MPL</text>
<text x="299.00" y="365.60" font-size="5.45" text-anchor="end" font-weight="bold" fill="#111" stroke="#111" stroke-width="0.1" transform="rotate(-45 299.00 365.60)">Medium</text>
<text x="308.00" y="365.60" font-size="5.45" text-anchor="end" font-weight="bold" fill="#111" stroke="#111" stroke-width="0.1" transform="rotate(-45 308.00 365.60)">MPL</text>
<text x="318.00" y="365.60" font-size="5.45" text-anchor="end" font-weight="bold" fill="#111" stroke="#111" stroke-width="0.1" transform="rotate(-45 318.00 365.60)">αCD3</text>
<text x="327.00" y="365.60" font-size="5.45" text-anchor="end" font-weight="bold" fill="#111" stroke="#111" stroke-width="0.1" transform="rotate(-45 327.00 365.60)">αCD3+MPL</text>
</svg>
</body></html>
